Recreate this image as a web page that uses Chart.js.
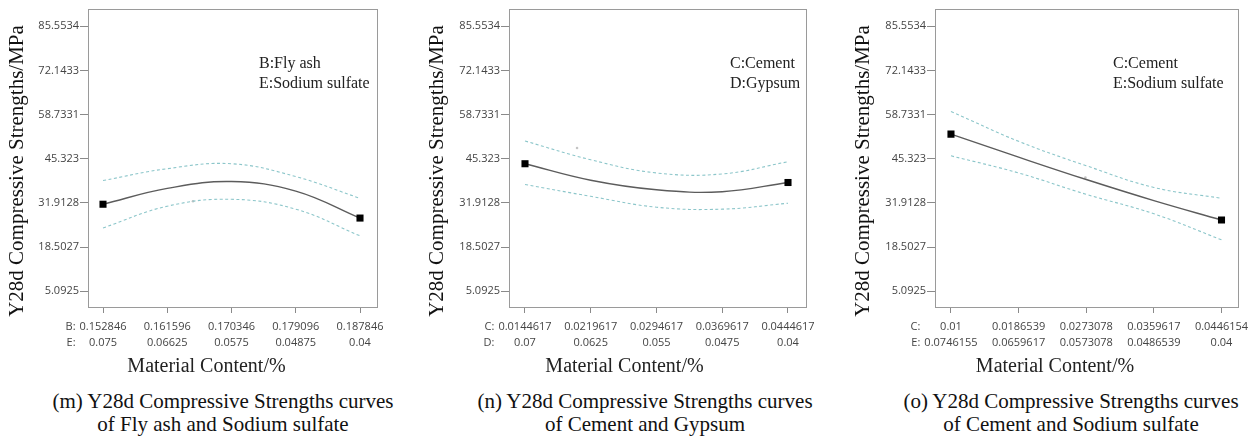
<!DOCTYPE html>
<html lang="en">
<head>
<meta charset="UTF-8">
<title>Y28d Compressive Strengths curves</title>
<script src="https://cdn.jsdelivr.net/npm/chart.js"></script>
<style>
  body { margin:0; background:#fff; width:1255px; height:445px; position:relative; overflow:hidden; font-family:"Liberation Serif","Times New Roman",serif; }
  canvas { position:absolute; top:0; }
  .caption { position:absolute; top:390px; width:420px; text-align:center; font-size:21px; line-height:23px; color:#111; white-space:nowrap; }
</style>
</head>
<body>
<canvas id="chartM" width="415" height="385" style="left:0px"></canvas>
<canvas id="chartN" width="420" height="385" style="left:420px"></canvas>
<canvas id="chartO" width="409" height="385" style="left:846px"></canvas>
<div class="caption" style="left:13px">(m) Y28d Compressive Strengths curves<br>of Fly ash and Sodium sulfate</div>
<div class="caption" style="left:435px">(n) Y28d Compressive Strengths curves<br>of Cement and Gypsum</div>
<div class="caption" style="left:861px">(o) Y28d Compressive Strengths curves<br>of Cement and Sodium sulfate</div>

<script>
const yTicks = [5.0925, 18.5027, 31.9128, 45.323, 58.7331, 72.1433, 85.5534];

// (m) fly ash (B) against sodium sulfate (E)
const flyAshM = [0.152846, 0.161596, 0.170346, 0.179096, 0.187846];
const sulfateM = ['0.075', '0.06625', '0.0575', '0.04875', '0.04'];
const fitM = [31.5, 36.3, 38.4, 35.5, 27.3];
const upperM = [38.7, 42.3, 43.8, 39.9, 33.3];
const lowerM = [24.3, 30.9, 33.0, 30.0, 21.9];
const runsM = [[0.1651, 32.4]];

// (n) cement (C) against gypsum (D)
const cementN = [0.0144617, 0.0219617, 0.0294617, 0.0369617, 0.0444617];
const gypsumN = ['0.07', '0.0625', '0.055', '0.0475', '0.04'];
const fitN = [43.8, 38.8, 35.9, 35.3, 38.1];
const upperN = [50.7, 45.0, 41.0, 40.7, 44.4];
const lowerN = [37.5, 33.9, 30.6, 30.0, 31.8];
const runsN = [[0.0204, 48.6]];

// (o) cement (C) against sodium sulfate (E)
const cementO = [0.01, 0.0186539, 0.0273078, 0.0359617, 0.0446154];
const sulfateO = ['0.0746155', '0.0659617', '0.0573078', '0.0486539', '0.04'];
const fitO = [52.8, 45.8, 39.0, 32.6, 26.7];
const upperO = [59.7, 50.6, 43.2, 36.6, 33.3];
const lowerO = [46.2, 41.0, 34.5, 28.6, 20.7];
const runsO = [[0.0272, 39.6]];

const TICK_FONT = { family: '"Open Sans"', size: 11, lineHeight: 1.45 };
const SERIF = '"Liberation Serif"';

// box round the plot, y title, factor letters before the first tick column, factor names, x title
const panelText = {
  id: 'panelText',
  afterDraw(chart, args, opts) {
    const { ctx, chartArea: a, scales: { x } } = chart;
    ctx.save();
    ctx.strokeStyle = '#9a9a9a';
    ctx.lineWidth = 1;
    ctx.strokeRect(Math.round(a.left) + 0.5, Math.round(a.top) + 0.5, Math.round(a.width), Math.round(a.height));

    ctx.font = '11px "Open Sans"';
    ctx.fillStyle = '#444';
    ctx.textAlign = 'right';
    ctx.textBaseline = 'middle';
    const firstLab = x.ticks[0].label;
    const px = x.getPixelForValue(x.ticks[0].value);
    const w = Math.max(...firstLab.map(s => ctx.measureText(s).width));
    opts.prefixes.forEach((p, i) => ctx.fillText(p, px - w / 2 - 4, a.bottom + 20 + i * 16));

    ctx.font = '16px ' + SERIF;
    ctx.fillStyle = '#222';
    ctx.textAlign = 'left';
    opts.factors.forEach((f, i) => ctx.fillText(f, opts.factorsX, a.top + 55 + i * 20));

    ctx.font = '20px ' + SERIF;
    ctx.textAlign = 'center';
    ctx.fillText('Material Content/%', opts.titleX, 367);

    ctx.font = '21px ' + SERIF;
    ctx.fillStyle = '#111';
    ctx.translate(17, 171);
    ctx.rotate(-Math.PI / 2);
    ctx.fillText('Y28d Compressive Strengths/MPa', 0, 0);
    ctx.restore();
  }
};

function panel(id, p) {
  const pts = ys => p.x.map((x, i) => ({ x, y: ys[i] }));
  const band = ys => ({
    data: pts(ys), borderColor: '#8cc6ca', borderWidth: 1.1, borderDash: [3, 2.5],
    pointRadius: 0, tension: 0.4, fill: false
  });
  const canvas = document.getElementById(id);
  new Chart(canvas, {
    type: 'line',
    data: {
      datasets: [
        band(p.upper),
        band(p.lower),
        {
          data: pts(p.fit), borderColor: '#5c5c5c', borderWidth: 1.4, tension: 0.4, fill: false,
          pointStyle: 'rect',
          pointRadius: c => (c.dataIndex === 0 || c.dataIndex === p.x.length - 1) ? 5 : 0,
          pointBackgroundColor: '#000', pointBorderColor: '#000', pointBorderWidth: 0
        },
        {
          type: 'scatter', data: p.runs.map(([x, y]) => ({ x, y })),
          pointRadius: 1.3, backgroundColor: '#c4c4c4', borderWidth: 0
        }
      ]
    },
    options: {
      responsive: false,
      animation: false,
      devicePixelRatio: 1,
      layout: { padding: { top: 6, right: canvas.width - p.right, bottom: 0, left: 0 } },
      plugins: {
        legend: { display: false },
        tooltip: { enabled: false },
        panelText: { prefixes: p.prefixes, factors: p.factors, factorsX: p.factorsX, titleX: p.titleX }
      },
      scales: {
        x: {
          type: 'linear', min: p.xmin, max: p.xmax,
          afterBuildTicks: s => { s.ticks = p.x.map(v => ({ value: v })); },
          afterFit: s => { s.height = canvas.height - 307; },
          grid: { drawOnChartArea: false, tickLength: 6, tickColor: '#8a8a8a' },
          border: { display: false },
          ticks: {
            padding: 6, color: '#444', font: TICK_FONT, maxRotation: 0, autoSkip: false,
            callback: (v, i) => [String(p.x[i]), p.second[i]]
          }
        },
        y: {
          min: 0.29, max: 90.8,
          afterBuildTicks: s => { s.ticks = yTicks.map(v => ({ value: v })); },
          afterFit: s => { s.width = p.left; },
          grid: { drawOnChartArea: false, tickLength: 8, tickColor: '#8a8a8a' },
          border: { display: false },
          ticks: { padding: 1, color: '#444', font: TICK_FONT, callback: v => String(v) }
        }
      }
    },
    plugins: [panelText]
  });
}

panel('chartM', {
  x: flyAshM, second: sulfateM, fit: fitM, upper: upperM, lower: lowerM, runs: runsM,
  xmin: 0.150803, xmax: 0.190161, left: 88, right: 377,
  prefixes: ['B:', 'E:'], factors: ['B:Fly ash', 'E:Sodium sulfate'], factorsX: 259, titleX: 206.5
});
panel('chartN', {
  x: cementN, second: gypsumN, fit: fitN, upper: upperN, lower: lowerN, runs: runsN,
  xmin: 0.012637, xmax: 0.046515, left: 89, right: 386,
  prefixes: ['C:', 'D:'], factors: ['C:Cement', 'D:Gypsum'], factorsX: 310, titleX: 204.5
});
panel('chartO', {
  x: cementO, second: sulfateO, fit: fitO, upper: upperO, lower: lowerO, runs: runsO,
  xmin: 0.007956, xmax: 0.046787, left: 89, right: 393,
  prefixes: ['C:', 'E:'], factors: ['C:Cement', 'E:Sodium sulfate'], factorsX: 267, titleX: 209
});
</script>
</body>
</html>
